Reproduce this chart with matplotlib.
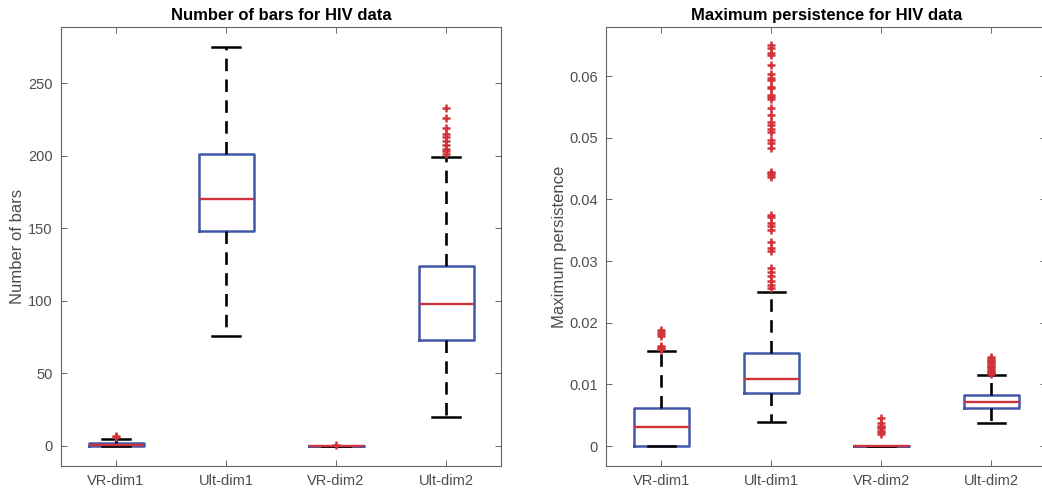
import matplotlib
matplotlib.use("Agg")
import matplotlib.pyplot as plt
from matplotlib.ticker import FormatStrFormatter

plt.rcParams['font.family'] = ['Liberation Sans', 'DejaVu Sans']
plt.rcParams['lines.scale_dashes'] = False

categories = ["VR-dim1", "Ult-dim1", "VR-dim2", "Ult-dim2"]

# ---- Number of bars: [lower whisker, q1, median, q3, upper whisker]
bars_lo = [0, 76, 0, 20]
bars_q1 = [0, 148, 0, 73]
bars_med = [1, 170, 0, 98]
bars_q3 = [2, 201, 0, 124]
bars_hi = [5, 275, 0, 199]
bars_out_vr1 = [6, 7]
bars_out_ult1 = []
bars_out_vr2 = [1]
bars_out_ult2 = [233, 226, 219, 215, 213, 210, 207.5, 205, 203, 201]

# ---- Maximum persistence
pers_lo = [0.0, 0.0039, 0.0, 0.00373]
pers_q1 = [0.0, 0.0086, 0.0, 0.00616]
pers_med = [0.00303, 0.01081, 0.0, 0.00708]
pers_q3 = [0.00611, 0.01514, 0.0, 0.00827]
pers_hi = [0.0154, 0.0249, 0.0, 0.01151]
pers_out_vr1 = [0.0188, 0.0185, 0.0182, 0.0179, 0.0162, 0.0160, 0.0158, 0.0157]
pers_out_ult1 = [0.0650, 0.0646, 0.0637, 0.0634, 0.0618, 0.0603, 0.0597, 0.0594,
                 0.0583, 0.0580, 0.0569, 0.0566, 0.0563, 0.0548, 0.0537, 0.0525,
                 0.0521, 0.0514, 0.0510, 0.0496, 0.0491, 0.0484, 0.0445, 0.0442,
                 0.0440, 0.0437, 0.0375, 0.0371, 0.0361, 0.0356, 0.0350, 0.0331,
                 0.0321, 0.0317, 0.0288, 0.0283, 0.0275, 0.0268, 0.0261, 0.0256]
pers_out_vr2 = [0.0046, 0.0037, 0.0033, 0.0031, 0.0029, 0.0025, 0.0022, 0.0019]
pers_out_ult2 = [0.0144, 0.0142, 0.0140, 0.0138, 0.0136, 0.0134, 0.0132, 0.0130,
                 0.0128, 0.0126, 0.0124, 0.0122, 0.0120, 0.0118, 0.0117]

bars_yticks = [0, 50, 100, 150, 200, 250]
pers_yticks = [0, 0.01, 0.02, 0.03, 0.04, 0.05, 0.06]

BLUE = '#4157A8'
RED = '#D0343A'
TICKC = '#4D4D4D'


def make_stats(lo, q1, med, q3, hi, outs):
    stats = []
    for i in range(len(lo)):
        stats.append(dict(whislo=lo[i], q1=q1[i], med=med[i], q3=q3[i],
                          whishi=hi[i], fliers=outs[i], label=categories[i]))
    return stats


def draw(ax, stats, ylim, yticks, fmt, title, ylabel):
    ax.bxp(stats, positions=[1, 2, 3, 4], widths=0.5, capwidths=0.25,
           showfliers=True,
           boxprops=dict(color=BLUE, linewidth=1.8),
           medianprops=dict(color=RED, linewidth=1.7),
           whiskerprops=dict(color='black', linewidth=1.9,
                             linestyle=(0, (9, 6))),
           capprops=dict(color='black', linewidth=1.8),
           flierprops=dict(marker='+', markeredgecolor=RED, markersize=6,
                           markeredgewidth=1.8, linestyle='none'))
    ax.set_xlim(0.5, 4.5)
    ax.set_ylim(*ylim)
    ax.set_yticks(yticks)
    ax.yaxis.set_major_formatter(FormatStrFormatter(fmt))
    ax.set_xticks([1, 2, 3, 4])
    ax.set_xticklabels(categories)
    ax.tick_params(direction='in', top=True, right=True, length=4.5,
                   width=0.7, colors='#666666', labelcolor=TICKC,
                   labelsize=10.5, pad=6)
    for s in ax.spines.values():
        s.set_color('#666666')
        s.set_linewidth(0.8)
    ax.set_title(title, fontsize=12, fontweight='bold', color='black', pad=5)
    ax.set_ylabel(ylabel, fontsize=12, color=TICKC, labelpad=2)


fig = plt.figure(figsize=(10.42, 4.9), dpi=100)
ax1 = fig.add_axes([61 / 1042, 24 / 490, 440 / 1042, 439 / 490])
ax2 = fig.add_axes([606.3 / 1042, 24 / 490, 440 / 1042, 439 / 490])

draw(ax1, make_stats(bars_lo, bars_q1, bars_med, bars_q3, bars_hi,
                     [bars_out_vr1, bars_out_ult1, bars_out_vr2, bars_out_ult2]),
     (-13.8, 288.8), bars_yticks, '%g', 'Number of bars for HIV data',
     'Number of bars')
draw(ax2, make_stats(pers_lo, pers_q1, pers_med, pers_q3, pers_hi,
                     [pers_out_vr1, pers_out_ult1, pers_out_vr2, pers_out_ult2]),
     (-0.00324, 0.06795), pers_yticks, '%g', 'Maximum persistence for HIV data',
     'Maximum persistence')

fig.savefig('out.png', dpi=100)
